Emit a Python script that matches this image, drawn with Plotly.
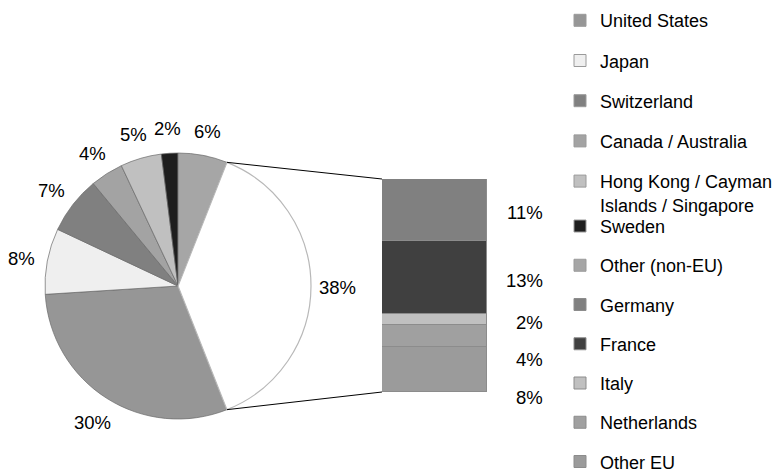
import math
import plotly.graph_objects as go

# ---------------- data ----------------
pie_labels = ["United States", "Japan", "Switzerland", "Canada / Australia",
              "Hong Kong / Cayman<br>Islands / Singapore", "Sweden", "Other (non-EU)"]
pie_values = [30, 8, 7, 4, 5, 2, 6]
pie_colors = ["#969696", "#efefef", "#808080", "#a3a3a3", "#c0c0c0", "#1e1e1e", "#a6a6a6"]

eu_labels = ["Germany", "France", "Italy", "Netherlands", "Other EU"]
eu_values = [11, 13, 2, 4, 8]
eu_colors = ["#808080", "#404040", "#c0c0c0", "#a0a0a0", "#9b9b9b"]
eu_slice_label = "EU"
eu_slice_color = "#ffffff"

# ---------------- layout constants ----------------
W, H = 781, 473
PIE_CX, PIE_CY, PIE_R = 178, 286, 133
BAR_X0, BAR_X1, BAR_TOP, BAR_BOTTOM = 382, 487, 179, 392
LABEL_R = PIE_R * 1.2
LABEL_YSHIFT = -2
BAR_LABEL_RIGHT = 545
BAR_LABEL_YSHIFT = -3
LABEL_MIN_GAP_PX = 37.5
FONT = dict(family="Arial, 'Liberation Sans', sans-serif", size=18.5, color="#000000")
LEGEND_FONT = dict(family="Arial, 'Liberation Sans', sans-serif", size=18, color="#000000")
LEGEND_LEFT_PX = 560
LEGEND1_TOP_PX = 2.1     # United States ... Hong Kong (wrapped text hangs below)
LEGEND2_TOP_PX = 207.8   # Sweden ... Other EU
LEGEND1_GAP = 13.8
LEGEND2_GAP = 12.85
SPLIT_AT = pie_labels[5]  # first entry of the second legend block

eu_total = sum(eu_values)
all_values = pie_values + [eu_total]
total = sum(all_values)
rotation = 90 + 180 * eu_total / total  # aggregate slice centred at 3 o'clock


def px_to_paper(x, y):
    return x / W, 1 - y / H


def pie_point(angle_deg, r):
    a = math.radians(angle_deg)
    return PIE_CX + r * math.sin(a), PIE_CY - r * math.cos(a)


fig = go.Figure()

# pie
fig.add_trace(go.Pie(
    labels=pie_labels + [eu_slice_label],
    values=all_values,
    sort=False,
    direction="clockwise",
    rotation=rotation,
    textinfo="none",
    showlegend=False,
    marker=dict(colors=pie_colors + [eu_slice_color],
                line=dict(color=["#6a6a6a"] * len(pie_values) + ["#b8b8b8"],
                          width=[0.7] * len(pie_values) + [1.2])),
    domain=dict(x=[(PIE_CX - PIE_R) / W, (PIE_CX + PIE_R) / W],
                y=[1 - (PIE_CY + PIE_R) / H, 1 - (PIE_CY - PIE_R) / H]),
    hoverinfo="label+percent",
))

legend_order = pie_labels + eu_labels
split_index = legend_order.index(SPLIT_AT)


def legend_for(label):
    return "legend" if legend_order.index(label) < split_index else "legend2"


# legend entries for the pie slices
for i, (lab, col) in enumerate(zip(pie_labels, pie_colors)):
    fig.add_trace(go.Bar(
        x=[None], y=[None], name=lab, legendgroup="g%d" % i, legendrank=i + 1,
        legend=legend_for(lab),
        marker=dict(color=col, line=dict(color="#9a9a9a", width=1)),
        xaxis="x", yaxis="y", hoverinfo="skip",
    ))

# stacked bar of the EU breakdown (bottom segment first)
for lab, val, col in reversed(list(zip(eu_labels, eu_values, eu_colors))):
    fig.add_trace(go.Bar(
        x=[0], y=[val], name=lab, legendgroup=lab,
        legendrank=legend_order.index(lab) + 1,
        legend=legend_for(lab),
        marker=dict(color=col, line=dict(color="#8c8c8c", width=1)),
        width=1, xaxis="x", yaxis="y",
    ))

annotations = []
# pie percentage labels
cum = 0
for v in all_values:
    mid = rotation + 360 * (cum + v / 2) / total
    lx, ly = pie_point(mid, LABEL_R)
    px, py = px_to_paper(lx, ly)
    annotations.append(dict(x=px, y=py, xref="paper", yref="paper", text="%d%%" % v,
                            showarrow=False, font=FONT, xanchor="center", yanchor="middle",
                            yshift=LABEL_YSHIFT))
    cum += v

# bar labels, top-down with a minimum vertical spacing
ydom = [1 - BAR_BOTTOM / H, 1 - BAR_TOP / H]
units_per_px = eu_total / (BAR_BOTTOM - BAR_TOP)
min_gap = LABEL_MIN_GAP_PX * units_per_px
top = eu_total
prev = None
for lab, val in zip(eu_labels, eu_values):
    centre = top - val / 2
    y = centre if prev is None else min(centre, prev - min_gap)
    y_paper = ydom[0] + (y / eu_total) * (ydom[1] - ydom[0])
    annotations.append(dict(x=BAR_LABEL_RIGHT / W, y=y_paper, xref="paper", yref="paper",
                            text="%d%%" % val, showarrow=False, font=FONT,
                            xanchor="right", yanchor="middle", yshift=BAR_LABEL_YSHIFT))
    prev = y
    top -= val

# connector lines between the aggregate slice and the bar
a_start = rotation + 360 * (total - eu_total) / total
a_end = a_start + 360 * eu_total / total
shapes = []
for ang, by in ((a_start, BAR_TOP), (a_end, BAR_BOTTOM)):
    sx, sy = pie_point(ang, PIE_R)
    x0, y0 = px_to_paper(sx, sy)
    x1, y1 = px_to_paper(BAR_X0, by)
    shapes.append(dict(type="line", xref="paper", yref="paper", x0=x0, y0=y0, x1=x1, y1=y1,
                       line=dict(color="#000000", width=1)))

legend_common = dict(x=LEGEND_LEFT_PX / W, xanchor="left", yanchor="top",
                     traceorder="grouped", valign="top",
                     font=LEGEND_FONT, itemwidth=30, bgcolor="rgba(0,0,0,0)", borderwidth=0)

fig.update_layout(
    width=W, height=H,
    margin=dict(l=0, r=0, t=0, b=0, autoexpand=False),
    paper_bgcolor="white", plot_bgcolor="white",
    barmode="stack", bargap=0,
    xaxis=dict(domain=[BAR_X0 / W, BAR_X1 / W], range=[-0.5, 0.5], visible=False, fixedrange=True),
    yaxis=dict(domain=ydom, range=[0, eu_total], visible=False, fixedrange=True),
    font=FONT,
    legend=dict(y=1 - LEGEND1_TOP_PX / H, tracegroupgap=LEGEND1_GAP, **legend_common),
    legend2=dict(y=1 - LEGEND2_TOP_PX / H, tracegroupgap=LEGEND2_GAP, **legend_common),
    annotations=annotations,
    shapes=shapes,
    showlegend=True,
)

fig.write_html(
    "out.html",
    config={"displayModeBar": False},
    post_script="document.body.style.margin='0';document.body.style.overflow='hidden';",
)
